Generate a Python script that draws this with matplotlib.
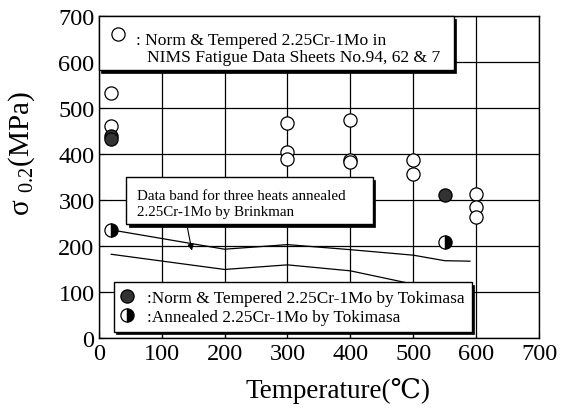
import matplotlib
matplotlib.use('Agg')
import matplotlib.pyplot as plt
from matplotlib.patches import Rectangle
import matplotlib.transforms as mtransforms

plt.rcParams['font.family'] = ['Liberation Serif', 'DejaVu Serif']
plt.rcParams['mathtext.fontset'] = 'custom'
plt.rcParams['mathtext.rm'] = 'Liberation Serif'
plt.rcParams['mathtext.it'] = 'Liberation Serif:italic'

# ---- data ----
nims_T = [20, 20, 300, 300, 300, 400, 400, 400, 500, 500, 600, 600, 600]
nims_S = [533, 462, 468, 406, 391, 475, 388, 383, 388, 357, 314, 285, 263]
nt_T = [20, 20, 550]
nt_S = [440, 433, 312]
ann_T = [20, 550]
ann_S = [236, 209]
band_upper_T = [20, 200, 300, 400, 500, 550, 590]
band_upper_S = [236, 194, 204, 193, 181, 169, 168]
band_lower_T = [20, 200, 300, 400, 500, 520]
band_lower_S = [183, 150, 160, 147, 118, 112]
ticks = [0, 100, 200, 300, 400, 500, 600, 700]

legend_nims = [": Norm & Tempered 2.25Cr-1Mo in", "NIMS Fatigue Data Sheets No.94, 62 & 7"]
legend_band = ["Data band for three heats annealed", "2.25Cr-1Mo by Brinkman"]
legend_tok = [":Norm & Tempered 2.25Cr-1Mo by Tokimasa", ":Annealed 2.25Cr-1Mo by Tokimasa"]

fig = plt.figure(figsize=(5.67, 4.14), dpi=100)
ax = fig.add_axes([0.174, 0.180, 0.777, 0.778])
ax.set_xlim(0, 700)
ax.set_ylim(0, 700)
ax.set_xticks(ticks)
ax.set_yticks(ticks)
ax.grid(True, color='black', lw=0.9)
ax.set_axisbelow(True)
ax.tick_params(direction='in', length=4, labelsize=17.5, pad=3)
for s in ax.spines.values():
    s.set_linewidth(1.0)

ax.plot(band_upper_T, band_upper_S, color='black', lw=0.9, zorder=3)
ax.plot(band_lower_T, band_lower_S, color='black', lw=0.9, zorder=3)

mk = dict(marker='o', ms=9.5, mew=0.9, mec='black', ls='none', zorder=4)
ax.plot(nims_T, nims_S, mfc='white', **mk)
ax.plot(nt_T, nt_S, mfc='#333333', **mk)
ax.plot(ann_T, ann_S, mfc='white', mfcalt='black', fillstyle='left', **mk)


def box(x0, y0, x1, y1, sh=2.5):
    tr = ax.transData + mtransforms.ScaledTranslation(sh / 100, -sh / 100, fig.dpi_scale_trans)
    ax.add_patch(Rectangle((x0, y0), x1 - x0, y1 - y0, transform=tr, facecolor='black',
                           edgecolor='black', lw=0.5, zorder=6, clip_on=False))
    ax.add_patch(Rectangle((x0, y0), x1 - x0, y1 - y0, facecolor='white',
                           edgecolor='black', lw=1.0, zorder=7, clip_on=False))


# top legend box
box(0, 583, 564, 700)
ax.plot([30.7], [661.5], mfc='white', **{**mk, 'zorder': 8})
ax.text(59, 640, legend_nims[0], fontsize=12.6, va='baseline', ha='left', zorder=9)
ax.text(77, 602, legend_nims[1], fontsize=12.6, va='baseline', ha='left', zorder=9)

# Brinkman box
box(43.6, 248.5, 435.6, 350)
ax.text(61, 304, legend_band[0], fontsize=10.8, va='baseline', ha='left', zorder=9)
ax.text(61, 269, legend_band[1], fontsize=10.8, va='baseline', ha='left', zorder=9)
ax.annotate('', xy=(149, 185), xytext=(140, 248),
            arrowprops=dict(arrowstyle='-|>', color='black', lw=0.8, mutation_scale=9),
            zorder=8)

# bottom legend box
box(24.3, 14.3, 593, 121.7)
ax.plot([45.5], [92.7], mfc='#333333', **{**mk, 'zorder': 8})
ax.plot([45.5], [50.7], mfc='white', mfcalt='black', fillstyle='left', **{**mk, 'zorder': 8})
ax.text(77, 79.6, legend_tok[0], fontsize=12.4, va='baseline', ha='left', zorder=9)
ax.text(77, 38.3, legend_tok[1], fontsize=12.4, va='baseline', ha='left', zorder=9)

ax.set_xlabel('Temperature(℃)', fontsize=19.5)
ax.xaxis.set_label_coords(0.543, -0.121)
ax.set_ylabel(r'σ $_{\rm 0.2}$(MPa)', fontsize=21)
ax.yaxis.set_label_coords(-0.140, 0.576)

fig.savefig('out.png', dpi=100)
